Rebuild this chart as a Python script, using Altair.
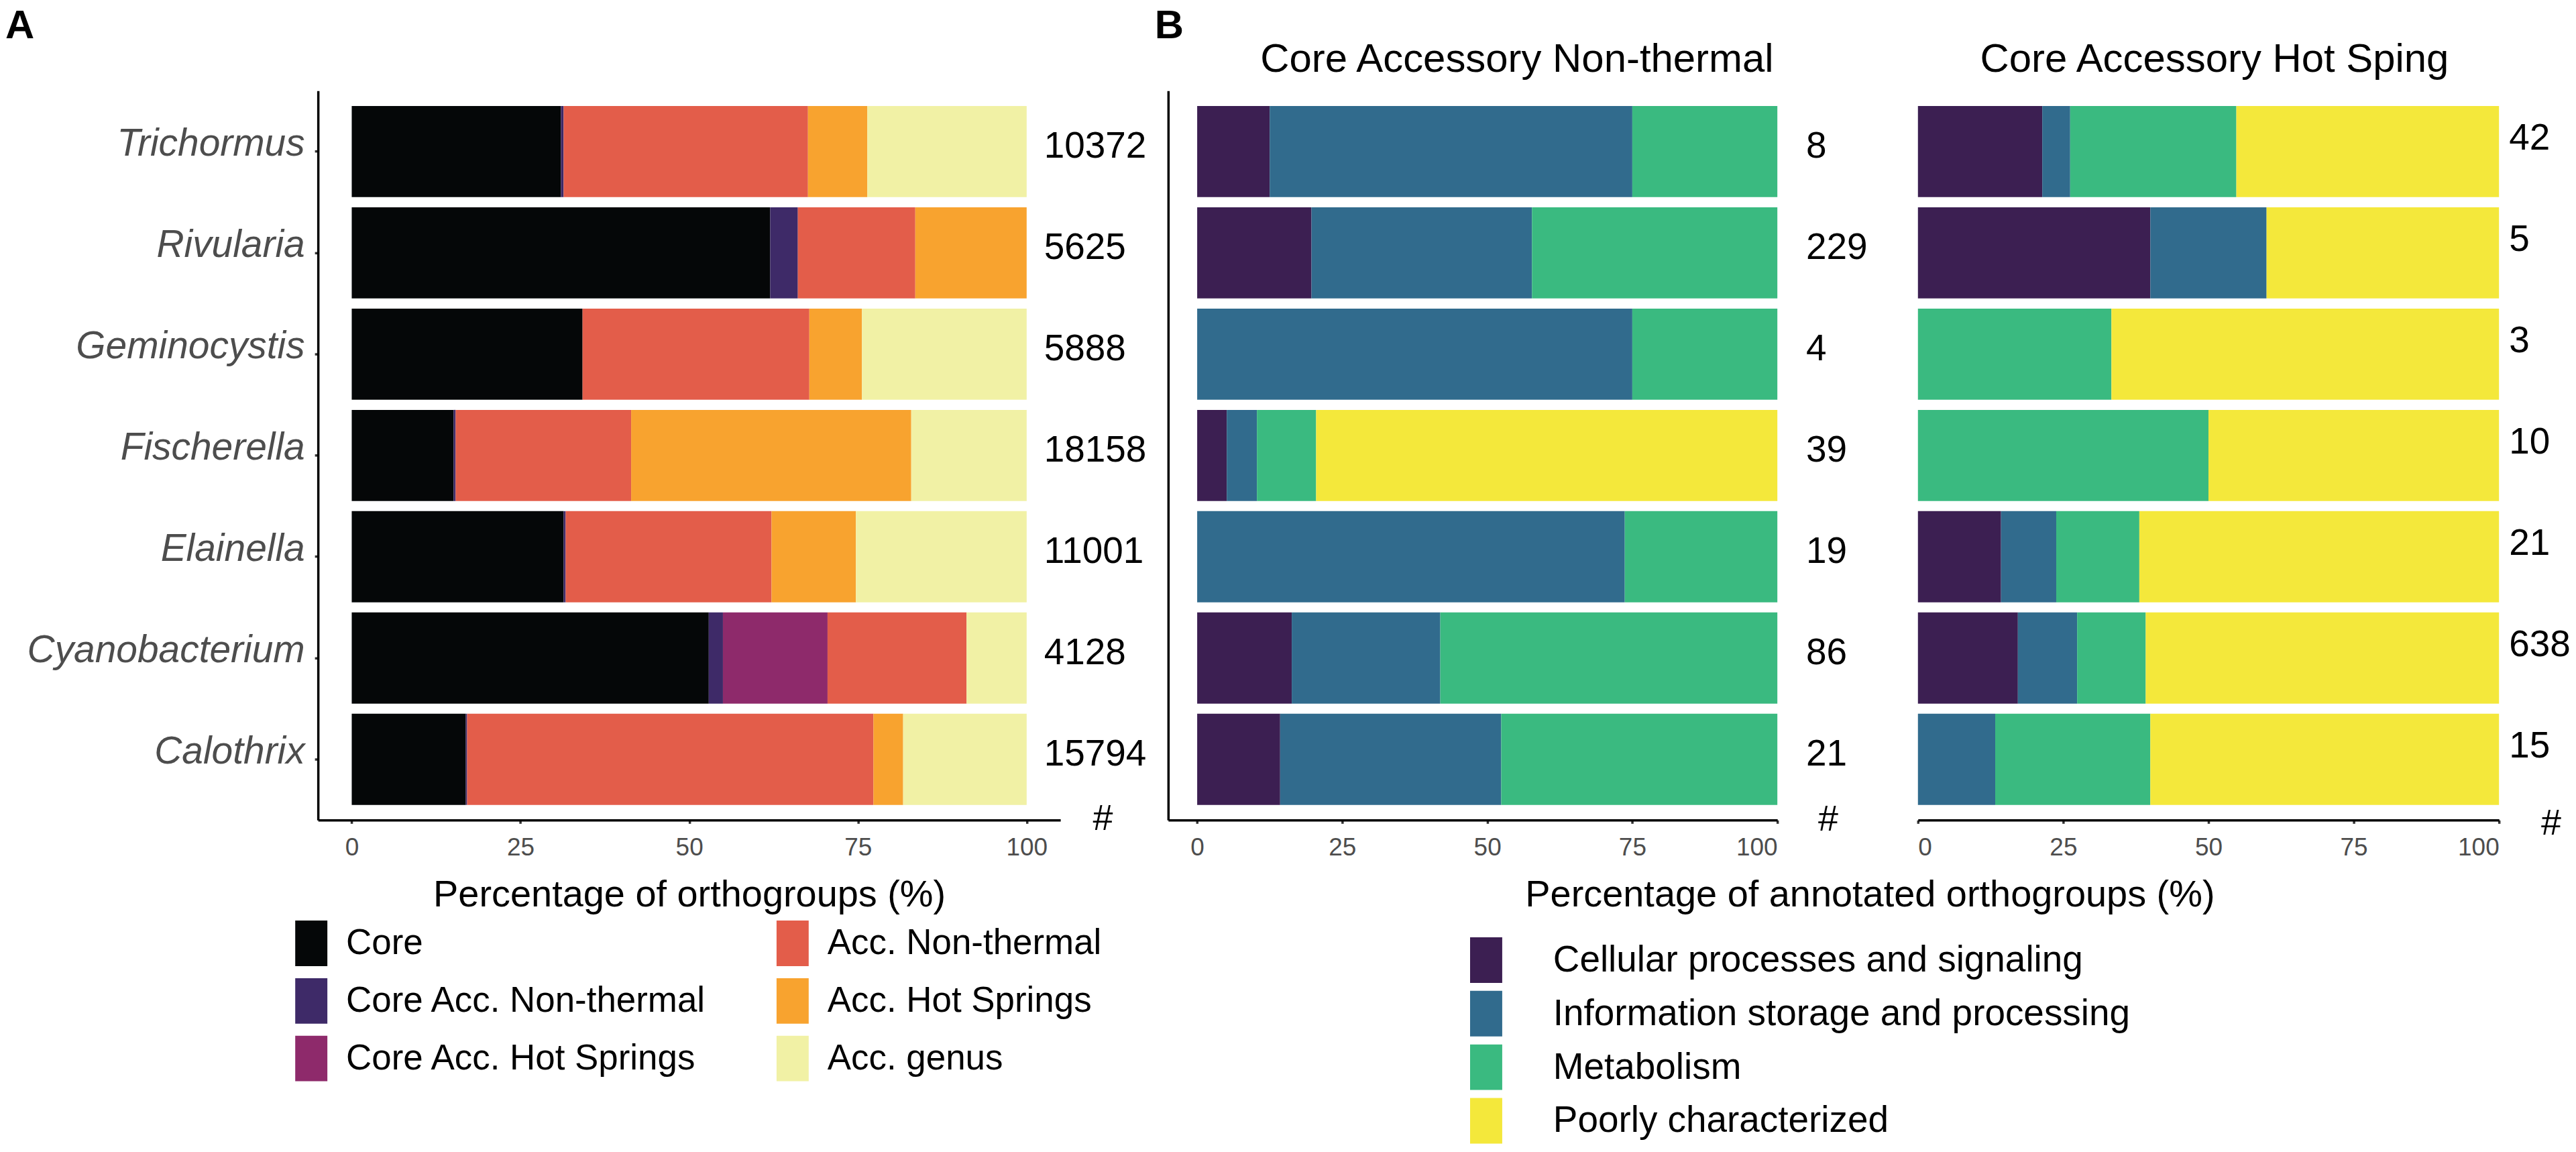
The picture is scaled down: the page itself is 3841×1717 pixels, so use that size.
import altair as alt
import pandas as pd

FONT = "Liberation Sans"

species = ["Trichormus", "Rivularia", "Geminocystis", "Fischerella",
           "Elainella", "Cyanobacterium", "Calothrix"]

# ---------------- Panel A ----------------
a_cats = ["Core", "Core Acc. Non-thermal", "Core Acc. Hot Springs",
          "Acc. Non-thermal", "Acc. Hot Springs", "Acc. genus"]
a_colors = ["#050708", "#3E2A68", "#8E2A6B", "#E35D4A", "#F8A32F", "#F1F1A5"]
a_core = [31.0, 62.0, 34.2, 15.1, 31.4, 52.9, 16.9]
a_core_nt = [0.4, 4.1, 0.0, 0.3, 0.3, 2.1, 0.2]
a_core_hs = [0.0, 0.0, 0.0, 0.0, 0.0, 15.5, 0.0]
a_acc_nt = [36.2, 17.4, 33.6, 26.0, 30.5, 20.6, 60.2]
a_acc_hs = [8.8, 16.5, 7.8, 41.5, 12.5, 0.0, 4.4]
a_genus = [23.6, 0.0, 24.4, 17.1, 25.3, 8.9, 18.3]
a_counts = [10372, 5625, 5888, 18158, 11001, 4128, 15794]

# ---------------- Panel B ----------------
b_cats = ["Cellular processes and signaling", "Information storage and processing",
          "Metabolism", "Poorly characterized"]
b_colors = ["#3C1F52", "#316B8D", "#3ABA80", "#F4E83B"]
nt_cell = [12.5, 19.7, 0.0, 5.1, 0.0, 16.3, 14.3]
nt_info = [62.5, 38.0, 75.0, 5.2, 73.7, 25.6, 38.1]
nt_metab = [25.0, 42.3, 25.0, 10.2, 26.3, 58.1, 47.6]
nt_poor = [0.0, 0.0, 0.0, 79.5, 0.0, 0.0, 0.0]
nt_counts = [8, 229, 4, 39, 19, 86, 21]
hs_cell = [21.4, 40.0, 0.0, 0.0, 14.3, 17.2, 0.0]
hs_info = [4.8, 20.0, 0.0, 0.0, 9.5, 10.2, 13.3]
hs_metab = [28.6, 0.0, 33.3, 50.0, 14.3, 11.8, 26.7]
hs_poor = [45.2, 40.0, 66.7, 50.0, 61.9, 60.8, 60.0]
hs_counts = [42, 5, 3, 10, 21, 638, 15]


def long_df(series, cats):
    rows = []
    for k, (cat, vals) in enumerate(zip(cats, series)):
        for sp, v in zip(species, vals):
            if v > 0:
                rows.append({"species": sp, "cat": cat, "value": v, "k": k})
    return pd.DataFrame(rows)


dfA = long_df([a_core, a_core_nt, a_core_hs, a_acc_nt, a_acc_hs, a_genus], a_cats)
dfNT = long_df([nt_cell, nt_info, nt_metab, nt_poor], b_cats)
dfHS = long_df([hs_cell, hs_info, hs_metab, hs_poor], b_cats)
cntA = pd.DataFrame({"species": species, "n": a_counts})
cntNT = pd.DataFrame({"species": species, "n": nt_counts})
cntHS = pd.DataFrame({"species": species, "n": hs_counts})

H = 1089
WA, WBL, WBR = 1109, 910, 868
RECT = "M-0.706,-1H0.706V1H-0.706Z"
ticks = [0, 25, 50, 75, 100]

axisYA = alt.Axis(title=None, labelFontStyle="italic", labelFontSize=57,
                  labelPadding=15, labelOffset=-11, labelLimit=1000,
                  domain=True, ticks=True)
axisYBL = alt.Axis(title=None, labels=False, ticks=False, domain=True)


def yenc(axis):
    return alt.Y("species:N", sort=species,
                 scale=alt.Scale(paddingInner=0.1, paddingOuter=0.15), axis=axis)


def hash_layer(dx, dy):
    return alt.Chart(alt.Data(values=[{"t": "#"}])).mark_text(
        align="center", baseline="middle", fontSize=54, font=FONT, color="black",
        dx=dx, dy=dy).encode(x=alt.datum(100), y=alt.value(H), text="t:N")


def count_layer(df, dx, dy, axis):
    return alt.Chart(df).mark_text(
        align="left", baseline="middle", fontSize=55, font=FONT, color="black",
        dx=dx, dy=dy).encode(x=alt.datum(100), y=yenc(axis), text="n:N")


def label_layer(txt, x, y, size, weight="normal", align="center", baseline="alphabetic"):
    return alt.Chart(alt.Data(values=[{"t": txt}])).mark_text(
        align=align, baseline=baseline, fontSize=size, fontWeight=weight,
        font=FONT, color="black").encode(x=alt.value(x), y=alt.value(y), text="t:N")


# ---- A ----
barsA = alt.Chart(dfA).mark_bar().encode(
    x=alt.X("value:Q", stack="zero",
            scale=alt.Scale(domain=[-5, 105], nice=False, zero=False),
            axis=alt.Axis(values=ticks, title="Percentage of orthogroups (%)",
                          titleX=WA / 2, titleY=128, titleAlign="center",
                          titleBaseline="alphabetic")),
    y=yenc(axisYA),
    color=alt.Color("cat:N",
                    scale=alt.Scale(domain=a_cats, range=a_colors),
                    legend=alt.Legend(orient="none", legendX=-44, legendY=1239,
                                      columns=2, columnPadding=93, rowPadding=18,
                                      symbolType=RECT, symbolSize=4624,
                                      symbolStrokeWidth=0, symbolOpacity=1,
                                      labelFontSize=53, labelOffset=18,
                                      labelLimit=2000, title=None, padding=0)),
    order=alt.Order("k:Q"),
)

chartA = alt.layer(
    barsA, count_layer(cntA, 26, -8, axisYA), hash_layer(114, -1),
    label_layer("A", -467, -125, 60, "bold", "left", "top"),
    label_layer("B", 1250, -125, 60, "bold", "left", "top"),
).properties(width=WA, height=H)

# ---- B left ----
barsNT = alt.Chart(dfNT).mark_bar().encode(
    x=alt.X("value:Q", stack="zero",
            scale=alt.Scale(domain=[-5, 100], nice=False, zero=False),
            axis=alt.Axis(values=ticks, title="Percentage of annotated orthogroups (%)",
                          titleX=1048, titleY=128, titleAlign="center",
                          titleBaseline="alphabetic")),
    y=yenc(axisYBL),
    color=alt.Color("cat:N", scale=alt.Scale(domain=b_cats, range=b_colors),
                    legend=alt.Legend(orient="none", legendX=441, legendY=1264,
                                      columns=1, rowPadding=12,
                                      symbolType=RECT, symbolSize=4624,
                                      symbolStrokeWidth=0, symbolOpacity=1,
                                      labelFontSize=55, labelOffset=66,
                                      labelLimit=2000, title=None, padding=0)),
    order=alt.Order("k:Q"),
)
chartNT = alt.layer(
    barsNT, count_layer(cntNT, 43, -8, axisYBL), hash_layer(76, 0),
    label_layer("Core Accessory Non-thermal", 521, -28, 60),
).properties(width=WBL, height=H)

# ---- B right ----
barsHS = alt.Chart(dfHS).mark_bar().encode(
    x=alt.X("value:Q", stack="zero",
            scale=alt.Scale(domain=[0, 100], nice=False, zero=False),
            axis=alt.Axis(values=ticks, title=None)),
    y=yenc(None),
    color=alt.Color("cat:N", scale=alt.Scale(domain=b_cats, range=b_colors), legend=None),
    order=alt.Order("k:Q"),
)
chartHS = alt.layer(
    barsHS, count_layer(cntHS, 15, -20, None), hash_layer(78, 6),
    label_layer("Core Accessory Hot Sping", 443, -28, 60),
).properties(width=WBR, height=H)

chartB = alt.hconcat(chartNT, chartHS, spacing=210, bounds="flush").resolve_scale(
    x="independent", color="independent")

chart = alt.hconcat(chartA, chartB, spacing=161, bounds="flush", padding=0).resolve_scale(
    x="independent", color="independent"
).configure(font=FONT).configure_view(stroke=None).configure_axis(
    domainColor="black", domainWidth=3.5, tickColor="#333333", tickWidth=3.5, tickSize=5,
    labelColor="#4D4D4D", labelFontSize=37, labelFont=FONT, labelPadding=18,
    titleFont=FONT, titleFontSize=56, titleFontWeight="normal", titleColor="black",
    grid=False
).configure_legend(labelFont=FONT, labelColor="black")

chart.save("out.html", embed_options={"renderer": "svg", "actions": False})
